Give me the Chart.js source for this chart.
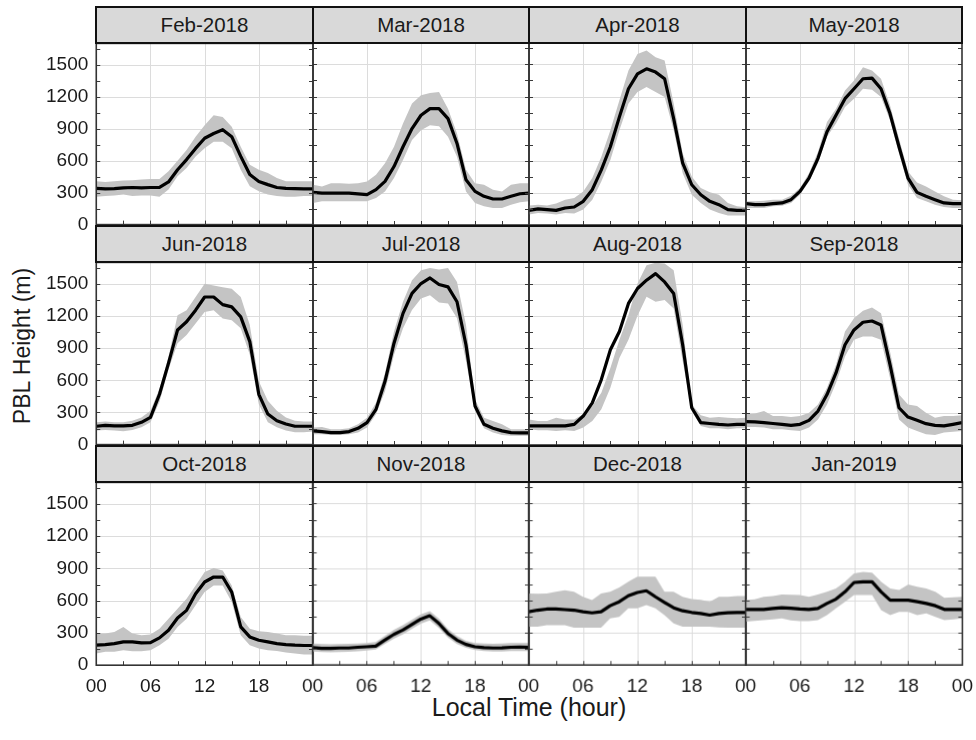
<!DOCTYPE html>
<html>
<head>
<meta charset="utf-8">
<script src="https://cdn.jsdelivr.net/npm/chart.js@4.4.1/dist/chart.umd.min.js"></script>
<style>
  html, body { margin: 0; padding: 0; background: #fff; }
  body { width: 976px; height: 740px; position: relative; overflow: hidden;
         font-family: "Liberation Sans", Arial, sans-serif; color: #1a1a1a; }
  canvas { position: absolute; }
  .strip { position: absolute; box-sizing: border-box; background: #d9d9d9;
           border: 2px solid #111; text-align: center; font-size: 20.5px; }
  .title { position: absolute; white-space: nowrap; color: #1a1a1a; }
</style>
</head>
<body>
<div class="title" id="ytitle">PBL Height (m)</div>
<div class="title" id="xtitle">Local Time (hour)</div>
<script>
// Hour of day (local time), 00 to 24
const hours = [0,1,2,3,4,5,6,7,8,9,10,11,12,13,14,15,16,17,18,19,20,21,22,23,24];

// Panel titles
const months = ['Feb-2018','Mar-2018','Apr-2018','May-2018','Jun-2018','Jul-2018',
                'Aug-2018','Sep-2018','Oct-2018','Nov-2018','Dec-2018','Jan-2019'];

// Mean PBL height (m) and the shaded range (low / high) for each month
const febMean = [340,335,338,345,348,345,348,350,400,515,610,715,810,855,890,825,640,470,405,375,348,340,338,336,336];
const febHigh = [407,400,407,413,416,422,428,428,500,600,700,824,932,1025,1010,917,731,561,515,484,437,407,407,407,407];
const febLow  = [261,268,274,283,268,274,274,261,330,453,530,638,716,778,778,716,515,360,314,283,268,261,261,268,268];

const marMean = [305,298,298,298,298,290,283,330,407,546,731,901,1025,1087,1087,994,762,422,314,268,243,243,268,292,298];
const marHigh = [376,360,391,391,385,391,407,469,577,731,948,1134,1211,1233,1242,1087,855,515,391,376,330,314,376,391,391];
const marLow  = [206,221,221,221,221,221,221,252,314,438,608,793,886,932,923,824,638,314,206,175,159,159,190,212,221];

const aprMean = [137,150,144,137,159,168,221,330,515,731,1010,1273,1412,1459,1428,1366,994,577,376,283,221,190,144,137,137];
const aprHigh = [181,190,181,200,237,252,314,438,638,886,1165,1443,1598,1629,1567,1536,1134,669,453,345,305,283,206,175,165];
const aprLow  = [98,113,108,98,113,108,144,237,407,608,886,1134,1242,1288,1242,1196,886,484,283,206,144,113,88,88,88];

const mayMean = [199,190,190,199,206,237,314,438,623,870,1025,1180,1273,1366,1372,1273,1041,731,438,305,268,237,206,199,199];
const mayHigh = [221,221,227,237,237,274,345,484,685,963,1087,1257,1350,1474,1443,1366,1118,808,499,397,360,314,268,237,231];
const mayLow  = [159,159,159,175,180,206,283,407,577,824,948,1103,1180,1273,1264,1196,979,669,376,252,221,190,168,159,159];

const junMean = [171,180,174,174,180,208,254,470,760,1069,1146,1254,1377,1377,1306,1285,1192,961,469,285,223,192,171,171,171];
const junHigh = [208,216,208,208,223,254,315,520,820,1208,1254,1377,1500,1485,1469,1454,1377,1115,592,408,315,254,223,216,216];
const junLow  = [131,137,131,125,137,162,208,400,700,946,1023,1131,1238,1254,1177,1161,1085,838,377,208,162,131,115,115,123];

const julMean = [131,125,115,115,125,155,208,331,592,946,1223,1408,1500,1552,1491,1469,1331,929,362,192,155,131,115,112,112];
const julHigh = [162,168,146,146,155,192,254,392,669,1054,1331,1531,1623,1644,1631,1644,1515,1115,423,254,223,192,146,146,146];
const julLow  = [100,100,94,94,100,115,162,285,500,838,1085,1254,1361,1392,1323,1315,1177,780,315,155,115,94,85,85,85];

const augMean = [177,177,177,177,177,192,269,392,608,885,1054,1315,1454,1531,1592,1515,1408,929,346,208,200,192,186,192,192];
const augHigh = [238,223,223,254,238,238,285,362,485,715,977,1208,1500,1669,1693,1685,1623,1115,377,277,254,260,254,248,254];
const augLow  = [146,137,137,131,137,131,162,223,331,531,808,977,1200,1377,1331,1346,1269,777,315,177,155,155,146,155,155];

const sepMean = [217,214,208,200,192,183,192,229,315,469,669,931,1069,1140,1152,1115,746,346,260,229,198,183,177,192,208];
const sepHigh = [285,292,315,269,269,260,269,300,377,531,746,1054,1177,1246,1277,1223,869,469,377,362,300,254,269,269,277];
const sepLow  = [168,168,162,146,146,137,131,162,238,377,577,823,977,1008,1008,977,623,238,162,131,100,94,115,123,131];

const octMean = [186,192,201,217,217,207,210,254,325,439,510,665,774,820,820,680,356,263,232,217,201,192,186,183,183];
const octHigh = [294,294,309,356,294,278,285,340,433,526,619,742,866,903,881,742,448,340,315,309,294,278,278,275,275];
const octLow  = [108,124,124,139,130,130,139,186,247,356,433,557,680,742,742,588,278,186,155,139,133,118,108,100,100];

const novMean = [161,155,155,158,158,165,170,176,232,284,325,377,427,458,387,294,232,192,170,161,158,160,165,167,165];
const novHigh = [200,195,192,195,198,200,205,215,270,325,370,420,470,500,430,335,270,225,205,200,198,200,205,205,205];
const novLow  = [125,120,118,120,122,128,135,145,195,245,285,335,385,415,345,255,195,160,140,130,125,125,130,130,130];

const decMean = [495,510,520,520,515,510,495,485,495,551,588,643,674,690,634,582,532,504,489,479,464,479,485,489,489];
const decHigh = [665,662,665,680,695,680,634,603,665,680,720,773,820,820,820,680,680,634,612,605,588,634,634,640,640];
const decLow  = [356,356,371,371,371,346,346,346,346,433,448,526,526,557,526,464,387,356,356,356,356,350,346,346,346];

const janMean = [517,517,517,525,532,527,520,517,526,572,612,680,767,773,773,680,603,603,603,588,572,551,517,517,517];
const janHigh = [603,610,634,640,656,652,650,634,656,680,711,773,851,866,857,773,711,696,748,727,711,680,625,630,634];
const janLow  = [402,410,418,425,433,415,408,408,418,464,526,588,650,650,650,510,464,495,495,464,479,448,418,425,433];

const meanSeries = [febMean, marMean, aprMean, mayMean, junMean, julMean, augMean, sepMean, octMean, novMean, decMean, janMean];
const highSeries = [febHigh, marHigh, aprHigh, mayHigh, junHigh, julHigh, augHigh, sepHigh, octHigh, novHigh, decHigh, janHigh];
const lowSeries  = [febLow, marLow, aprLow, mayLow, junLow, julLow, augLow, sepLow, octLow, novLow, decLow, janLow];

// Axis ticks
const yTickValues = [0, 300, 600, 900, 1200, 1500];
const xTickValues = [0, 6, 12, 18, 24];
const yGridValues = [300, 600, 900, 1200, 1500];
const xGridValues = [6, 12, 18];
const yMinorTicks = [150, 300, 450, 600, 750, 900, 1050, 1200, 1350, 1500, 1650];
const xMinorTicks = [3, 6, 9, 12, 15, 18, 21];
const yMax = 1700;

// Facet grid layout (px)
const colLeft = [96, 313, 529, 746];
const colWidth = [217, 216, 217, 216];
const stripTop = [6, 225, 445];
const stripH = 37;
const plotTop = [43, 262, 482];
const plotBottom = [225, 445, 665];

const FONT = '"Liberation Sans", Arial, sans-serif';

// Light grid behind the data
const gridPlugin = {
  id: 'panelGrid',
  beforeDatasetsDraw(chart) {
    const { ctx, chartArea: a, scales } = chart;
    ctx.save();
    ctx.strokeStyle = '#dcdcdc';
    ctx.lineWidth = 1;
    ctx.beginPath();
    yGridValues.forEach(v => {
      const y = Math.round(scales.y.getPixelForValue(v)) + 0.5;
      ctx.moveTo(a.left, y); ctx.lineTo(a.right, y);
    });
    xGridValues.forEach(v => {
      const x = Math.round(scales.x.getPixelForValue(v)) + 0.5;
      ctx.moveTo(x, a.top); ctx.lineTo(x, a.bottom);
    });
    ctx.stroke();
    ctx.restore();
  }
};

// Panel frame plus short inward ticks on the left, right and bottom edges
const framePlugin = {
  id: 'panelFrame',
  afterDatasetsDraw(chart) {
    const { ctx, chartArea: a, scales } = chart;
    ctx.save();
    ctx.strokeStyle = '#3a3a3a';
    ctx.lineWidth = 1;
    ctx.beginPath();
    yMinorTicks.forEach(v => {
      const y = Math.round(scales.y.getPixelForValue(v)) + 0.5;
      ctx.moveTo(a.left, y); ctx.lineTo(a.left + 4, y);
      ctx.moveTo(a.right - 4, y); ctx.lineTo(a.right, y);
    });
    xMinorTicks.forEach(v => {
      const x = Math.round(scales.x.getPixelForValue(v)) + 0.5;
      ctx.moveTo(x, a.bottom); ctx.lineTo(x, a.bottom - 4);
    });
    ctx.stroke();
    ctx.lineWidth = 1.6;
    ctx.strokeStyle = '#333';
    ctx.strokeRect(a.left, a.top, a.right - a.left, a.bottom - a.top);
    ctx.restore();
  }
};

function buildChart(i, w, h, opts) {
  const canvas = document.createElement('canvas');
  canvas.width = w; canvas.height = h;
  canvas.style.width = w + 'px'; canvas.style.height = h + 'px';
  canvas.style.left = '0px'; canvas.style.top = '0px';
  document.body.appendChild(canvas);
  const toXY = arr => arr.map((v, k) => ({ x: hours[k], y: v }));
  const chart = new Chart(canvas, {
    type: 'line',
    data: {
      datasets: [
        { data: toXY(meanSeries[i]), borderColor: '#000', borderWidth: 3.2,
          pointRadius: 0, tension: 0, fill: false, borderJoinStyle: 'round', order: 0 },
        { data: toXY(highSeries[i]), borderWidth: 0, borderColor: 'rgba(0,0,0,0)',
          backgroundColor: '#c4c4c4', pointRadius: 0, tension: 0, fill: '+1', order: 1 },
        { data: toXY(lowSeries[i]), borderWidth: 0, borderColor: 'rgba(0,0,0,0)',
          pointRadius: 0, tension: 0, fill: false, order: 1 }
      ]
    },
    options: {
      responsive: false,
      maintainAspectRatio: false,
      animation: false,
      devicePixelRatio: 1,
      events: [],
      layout: { padding: { left: opts.padL, right: opts.padR, top: opts.padT, bottom: opts.padB } },
      plugins: { legend: { display: false }, tooltip: { enabled: false } },
      scales: {
        x: {
          type: 'linear', min: 0, max: 24,
          afterBuildTicks: s => { s.ticks = xTickValues.map(v => ({ value: v })); },
          grid: { display: false, drawTicks: false },
          border: { display: false },
          ticks: {
            display: opts.isBottom, padding: 10, color: '#1a1a1a',
            font: { family: FONT, size: 19 },
            maxRotation: 0, autoSkip: false,
            callback: v => (v === 24 && !opts.isLast) ? '' : String(v % 24).padStart(2, '0')
          }
        },
        y: {
          type: 'linear', min: 0, max: yMax,
          afterBuildTicks: s => { s.ticks = yTickValues.map(v => ({ value: v })); },
          grid: { display: false, drawTicks: false },
          border: { display: false },
          ticks: {
            display: opts.isLeft, padding: 8, color: '#1a1a1a',
            font: { family: FONT, size: 19 },
            callback: v => String(v)
          }
        }
      }
    },
    plugins: [gridPlugin, framePlugin]
  });
  return { canvas, chart };
}

function makePanel(i) {
  const r = Math.floor(i / 4), c = i % 4;
  const opts = { isLeft: c === 0, isBottom: r === 2, isLast: c === 3,
                 padL: 14, padR: 14, padT: 2, padB: 2 };
  const plotW = colWidth[c], plotH = plotBottom[r] - plotTop[r];

  // first pass: find how much room the axes take, then size the canvas so the
  // plotting area is exactly plotW x plotH
  let w = plotW + 28 + (opts.isLeft ? 70 : 0);
  let h = plotH + 4 + (opts.isBottom ? 34 : 0);
  let built = buildChart(i, w, h, opts);
  let a = built.chart.chartArea;
  const dW = plotW - (a.right - a.left);
  const dH = plotH - (a.bottom - a.top);
  if (Math.abs(dW) > 0.01 || Math.abs(dH) > 0.01) {
    built.chart.destroy();
    built.canvas.remove();
    w += dW; h += dH;
    built = buildChart(i, w, h, opts);
    a = built.chart.chartArea;
  }
  built.canvas.style.left = (colLeft[c] - a.left) + 'px';
  built.canvas.style.top = (plotTop[r] - a.top) + 'px';

  const strip = document.createElement('div');
  strip.className = 'strip';
  strip.textContent = months[i];
  strip.style.left = (colLeft[c] - 1) + 'px';
  strip.style.width = (colWidth[c] + 2) + 'px';
  strip.style.top = stripTop[r] + 'px';
  strip.style.height = (stripH + 1) + 'px';
  strip.style.lineHeight = (stripH - 4) + 'px';
  document.body.appendChild(strip);
}

for (let i = 0; i < 12; i++) makePanel(i);

// Axis titles
const yt = document.getElementById('ytitle');
yt.style.fontSize = '23px';
yt.style.left = '22px'; yt.style.top = '346px';
yt.style.transform = 'translate(-50%, -50%) rotate(-90deg)';
const xt = document.getElementById('xtitle');
xt.style.fontSize = '25px';
xt.style.left = '529px'; xt.style.top = '707px';
xt.style.transform = 'translate(-50%, -50%)';
</script>
</body>
</html>
